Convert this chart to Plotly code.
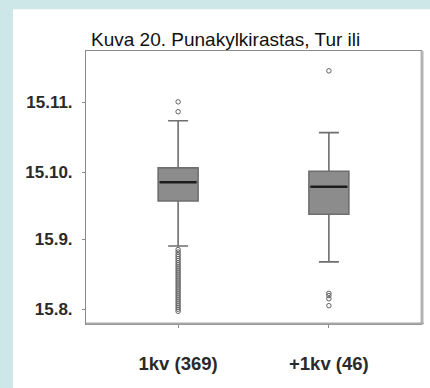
import plotly.graph_objects as go

# Day-of-year values (non-leap year): 15.8. = 227, 15.9. = 258, 15.10. = 288, 15.11. = 319
categories = ["1kv (369)", "+1kv (46)"]
q1 = [275.1, 269.2]
median = [283.5, 281.5]
q3 = [289.9, 288.4]
lower_fence = [255.1, 248.0]
upper_fence = [310.9, 305.6]

outliers_1kv = [319.3, 314.9,
                253.5, 252.4, 251.3, 250.4, 249.5, 248.6, 247.6, 246.7, 245.8, 244.9,
                244.0, 243.1, 242.2, 241.3, 240.4, 239.5, 238.6, 237.7, 236.8, 235.9,
                235.0, 234.1, 233.2, 232.3, 231.4, 230.5, 229.6, 228.7, 227.8, 226.9, 226.0]
outliers_plus1kv = [333.1, 234.0, 233.0, 231.6, 228.5]

tick_days = [227, 258, 288, 319]
tick_text = ["15.8.", "15.9.", "15.10.", "15.11."]

title_text = "Kuva 20. Punakylkirastas, Tur ili"

box_width = 0.265
xpos = list(range(len(categories)))
font_family = "Liberation Sans, Arial"

fig = go.Figure()

fig.add_trace(go.Box(
    x=xpos, q1=q1, median=median, q3=q3,
    lowerfence=lower_fence, upperfence=upper_fence,
    width=box_width, whiskerwidth=0.5,
    fillcolor="#8c8c8c",
    line=dict(color="#6e6e6e", width=1.6),
    boxpoints=False, showlegend=False, hoverinfo="skip",
))

# darker median bars over the boxes
for i, m in enumerate(median):
    fig.add_trace(go.Scatter(
        x=[xpos[i] - box_width / 2 + 0.01, xpos[i] + box_width / 2 - 0.01], y=[m, m],
        mode="lines", line=dict(color="#1c1c1c", width=2.6),
        showlegend=False, hoverinfo="skip",
    ))

for i, pts in enumerate([outliers_1kv, outliers_plus1kv]):
    fig.add_trace(go.Scatter(
        x=[xpos[i]] * len(pts), y=pts, mode="markers",
        marker=dict(symbol="circle-open", size=4.5, color="#606060", line=dict(width=1)),
        showlegend=False, hoverinfo="skip",
    ))

# white card behind the chart and heavier right/bottom frame edges
fig.add_shape(type="rect", xref="paper", yref="paper",
              x0=-0.218, x1=1.05, y0=-0.25, y1=1.153,
              fillcolor="white", line=dict(width=0), layer="below")
fig.add_shape(type="line", xref="paper", yref="paper",
              x0=1.003, x1=1.003, y0=0.0, y1=1.0,
              line=dict(color="#b4b4b4", width=3))
fig.add_shape(type="line", xref="paper", yref="paper",
              x0=0.0, x1=1.008, y0=0.002, y1=0.002,
              line=dict(color="#a8a8a8", width=2))

fig.add_annotation(text=title_text, xref="paper", yref="paper",
                   x=0.01, y=1.0, xanchor="left", yanchor="bottom",
                   showarrow=False, yshift=-1,
                   font=dict(family=font_family, size=19, color="#111111"))

fig.update_layout(
    width=430, height=388,
    margin=dict(l=86, r=9, t=51, b=64),
    paper_bgcolor="#cde6e8",
    plot_bgcolor="white",
    font=dict(family=font_family, color="#222222"),
    xaxis=dict(
        range=[-0.611, 1.611], tickvals=xpos, ticktext=categories,
        showgrid=False, zeroline=False, showline=True, linecolor="#8a8a8a",
        linewidth=1, mirror=True, ticks="outside", ticklen=3, tickcolor="#8a8a8a",
        tickfont=dict(size=18.5, color="#2a2a2a", weight="bold"), ticklabelstandoff=20,
    ),
    yaxis=dict(
        range=[220.34, 341.95], tickvals=tick_days, ticktext=tick_text,
        showgrid=False, zeroline=False, showline=True, linecolor="#8a8a8a",
        linewidth=1, mirror=True, ticks="outside", ticklen=3, tickcolor="#8a8a8a",
        tickfont=dict(size=17, color="#2a2a2a", weight="bold"), ticklabelstandoff=6,
    ),
)

fig.write_html("out.html")
